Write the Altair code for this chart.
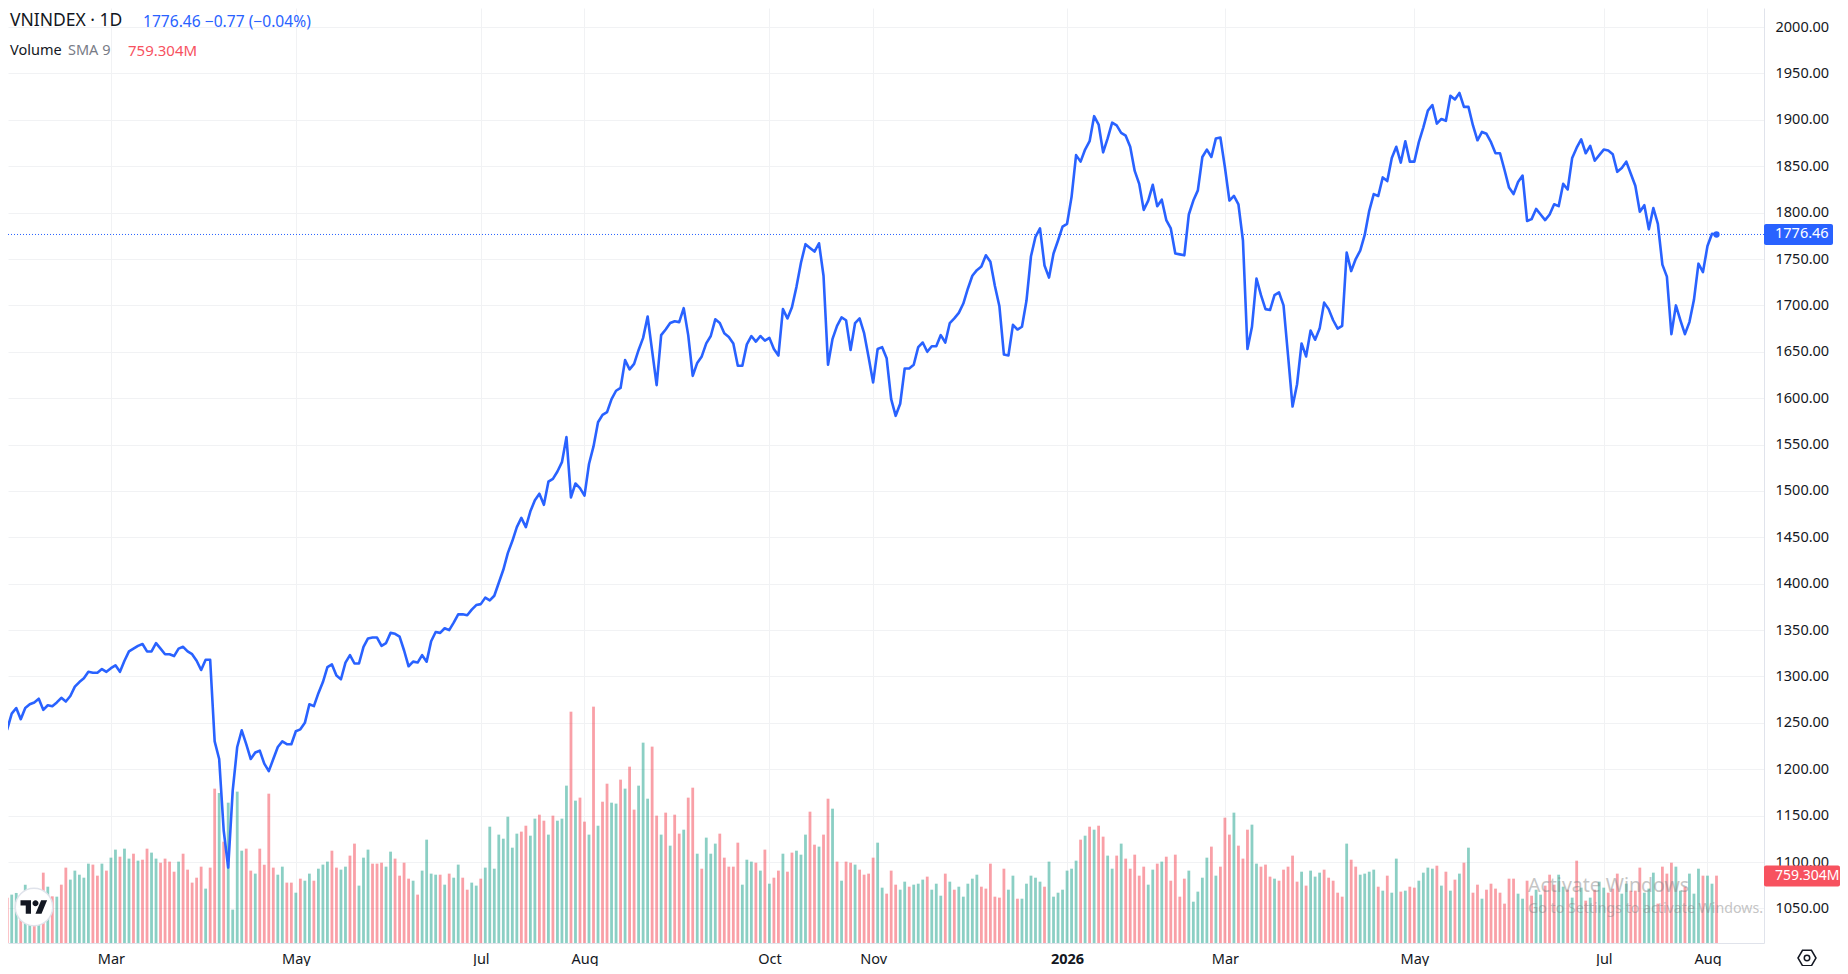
import altair as alt
import pandas as pd

FONT = "Noto Sans"

closes = [
 1250,1247,1243,1260,1266,1254,1266,1270,1272,1276,1264,1269,1268,1272,1277,1273,1279,1289,1294,1298,
 1305,1304,1304,1308,1305,1309,1312,1305,1317,1327,1330,1333,1335,1327,1327,1336,1330,1324,1324,1322,
 1330,1332,1327,1324,1317,1307,1318,1318,1230,1211,1134,1094,1177,1224,1242,1227,1211,1218,1220,1206,
 1198,1211,1224,1230,1227,1227,1241,1243,1250,1270,1268,1282,1294,1310,1313,1301,1297,1315,1323,1314,
 1314,1332,1341,1342,1342,1333,1336,1347,1346,1343,1328,1311,1316,1315,1323,1316,1338,1348,1347,1352,
 1350,1358,1367,1367,1366,1372,1377,1378,1385,1382,1387,1401,1415,1433,1446,1461,1471,1461,1478,1490,
 1497,1485,1510,1513,1521,1531,1558,1493,1508,1503,1495,1529,1548,1574,1582,1585,1599,1608,1611,
 1641,1631,1637,1652,1665,1688,1651,1614,1668,1674,1681,1683,1682,1697,1668,1624,1638,1645,1659,1667,
 1685,1681,1670,1666,1659,1635,1635,1658,1667,1661,1667,1662,1665,1653,1646,1696,1686,1698,1720,1746,
 1766,1762,1758,1767,1732,1636,1664,1678,1687,1684,1652,1681,1686,1670,1644,1617,1653,1655,1643,1599,
 1581,1594,1632,1632,1636,1655,1660,1650,1656,1656,1668,1660,1681,1686,1692,1702,1718,1732,1738,1742,
 1754,1747,1721,1699,1647,1646,1679,1674,1677,1705,1753,1774,1783,1743,1730,1756,1770,1785,1788,1817,
 1862,1855,1868,1877,1904,1895,1865,1880,1897,1894,1886,1883,1871,1845,1831,1803,1813,1830,1807,1814,
 1792,1783,1756,1755,1754,1798,1813,1824,1860,1868,1860,1880,1881,1849,1813,1818,1809,
 1770,1653,1677,1729,1711,1696,1695,1711,1714,1700,1646,1591,1615,1659,1645,1673,1663,1675,1703,1696,
 1684,1675,1678,1757,1737,1750,1759,1776,1802,1820,1818,1838,1834,1859,1871,1854,1877,1855,1855,1876,
 1892,1910,1916,1896,1901,1899,1926,1922,1929,1914,1914,1894,1878,1887,1885,1876,1864,1864,1846,1827,
 1820,1833,1840,1791,1793,1804,1798,1792,1798,1809,1807,1831,1825,1859,1870,1879,1864,1872,1856,1862,
 1868,1867,1863,1844,1848,1855,1842,1829,1801,1808,1782,1805,1788,1744,1731,1669,1700,1684,1669,1682,
 1706,1745,1736,1764,1777.23,1776.46,
]

volumes = [
 491,514,548,567,529,661,567,567,548,797,
 638,529,525,661,854,718,820,774,740,899,
 888,763,899,820,967,1058,978,1069,956,1012,
 933,944,1069,1024,956,910,956,922,808,922,
 1012,831,684,740,865,616,854,1749,1700,1148,
 1590,378,1715,1046,1069,820,786,1069,888,1692,
 854,774,865,684,684,570,729,706,786,706,
 842,888,922,1046,854,831,865,990,1126,650,
 967,1058,899,899,910,865,1035,956,763,910,
 729,706,548,820,1171,786,774,774,661,786,
 740,888,740,604,684,650,729,854,1318,842,
 1228,1182,1431,1080,1239,1262,1329,1216,1409,1454,
 1386,1228,1443,1386,1409,1783,2621,1613,1647,1375,
 1228,2678,1329,1601,1805,1590,1579,1851,
 1749,1998,1511,1783,2270,1635,2225,1443,1228,1477,
 1103,1454,1239,1284,1647,1760,1012,842,1194,1012,
 1126,1239,967,865,865,1137,661,944,922,910,
 820,1058,672,740,820,1012,808,1024,1046,1001,
 1228,1488,1114,1092,1228,1635,1522,922,706,922,
 910,888,831,774,786,967,1137,627,559,820,
 661,604,695,638,661,672,718,752,604,672,
 536,786,695,604,638,525,672,729,774,638,
 616,899,525,514,842,604,763,502,502,672,
 763,740,695,638,922,525,570,604,820,842,
 933,1171,1216,1318,1284,1329,1205,990,842,990,
 1126,956,842,1001,763,865,661,831,899,922,
 978,706,1001,525,729,820,468,582,740,967,
 1092,763,865,1420,1228,1477,1103,
 956,1284,1341,899,865,888,752,729,706,831,
 865,990,695,808,650,820,752,797,831,740,
 706,570,525,1126,944,865,774,786,808,831,
 638,593,763,570,956,582,593,638,627,706,
 797,854,842,876,650,808,593,718,786,910,
 1080,570,661,502,604,672,616,570,446,729,
 729,559,502,706,536,604,548,650,774,661,
 774,638,604,514,933,627,480,514,604,695,
 627,570,616,786,559,672,593,593,854,570,
 616,797,446,865,786,910,865,593,638,786,
 559,842,763,763,672,763,
]

bar_dirs = (
 "RRGGRGGRGR" "GRGRRGGGGG" "RRGRGGRGGR" "GRRGGRRRRG" "RRRRRGRRGR"
 "GGGGRRGRRR" "RGGRRGRGGR" "GGGRRGGRRG" "GGRRRGGRRR" "RGRGGGGRGR"
 "GGRRGGRGGG" "GGGGGRRGGR" "RGRGGGRGRR" "GRGRRGGR"
 "GRRGGGRRGR" "GRRGRRGRGG" "GRRRRRGGGR" "GRGRRGRRGG" "GRRGRRGRGR"
 "RGRRRRGGRR" "RGGRGGGRGG" "GRGRGGGGGR" "RRRRRGGRGG" "GGGRGGGGGG"
 "GRGRGRRGGR" "GRRRRRGGRG" "RRRRRGGGGG" "RGRRRGR"
 "RRGGRRRGRR" "RRRGRGGGRR" "RRRGRRGGGG" "RGRGGRGRRG" "GGGRGRGRGR"
 "GRRGRRRRRR" "RGGRRGGRRR" "GGRGRGRGRG" "GRRRGGRRRG" "GGRRRRGGRG"
 "GGRGGR"
)

tick_pos = [-356, -315, -274, -251, -210, -187, -144, -109, -67, -25, -2]
tick_text = ["Mar", "May", "Jul", "Aug", "Oct", "Nov", "2026", "Mar", "May", "Jul", "Aug"]
price_ticks = list(range(1050, 2001, 50))

last_close = 1776.46
last_sma = 759.304
bar_step_domain = [(8 - 1716.5) / 4.51, (1764 - 1716.5) / 4.51]
price_domain = [1012.7, 2020.6]
volume_domain = [0, 10594]

BLUE = "#2962FF"
TEAL = "#089981"
RED = "#F23645"
GRID = "#F1F2F4"

bars = pd.DataFrame({
    "i": [k - len(volumes) + 1 for k in range(len(volumes))],
    "v": volumes,
    "d": list(bar_dirs)[:len(volumes)],
})
line = pd.DataFrame({
    "i": [k - len(closes) + 1 for k in range(len(closes))],
    "c": closes,
})
one = pd.DataFrame({"a": [1]})

xs = alt.Scale(domain=bar_step_domain, nice=False, zero=False, padding=0)
ys = alt.Scale(domain=price_domain, nice=False, zero=False)
vs = alt.Scale(domain=volume_domain, nice=False, zero=False)

label_expr = "{" + ",".join(f"'{p}':'{t}'" for p, t in zip(tick_pos, tick_text)) + "}[''+datum.value]"

x_axis = alt.Axis(
    values=tick_pos, labelExpr=label_expr, title=None, grid=True, gridColor=GRID, gridWidth=1,
    ticks=False, domain=True, domainColor="#E0E3EB", domainWidth=1, labelFont=FONT, labelFontSize=14.5,
    labelColor="#131722", labelPadding=9, labelFlush=False, labelOverlap=False,
    labelFontWeight=alt.condition("datum.value == -144", alt.value(700), alt.value(400)),
)
y_axis = alt.Axis(
    values=price_ticks, orient="right", format=".2f", title=None, grid=True, gridColor=GRID, gridWidth=1,
    ticks=False, domain=True, domainColor="#E0E3EB", domainWidth=1, labelFont=FONT, labelFontSize=14.5,
    labelColor="#131722", labelPadding=11, labelAlign="left", labelOverlap=False, labelFlush=False,
)

base_grid = alt.Chart(line.tail(1)).mark_point(opacity=0).encode(
    x=alt.X("i:Q", scale=xs, axis=x_axis),
    y=alt.Y("c:Q", scale=ys, axis=y_axis),
)

bar_layer = alt.Chart(bars).mark_bar(size=2.8, opacity=0.47).encode(
    x=alt.X("i:Q", scale=xs, axis=x_axis),
    y=alt.Y("v:Q", scale=vs, axis=None),
    color=alt.Color("d:N", scale=alt.Scale(domain=["G", "R"], range=[TEAL, RED]), legend=None),
)

dot_rule = alt.Chart(pd.DataFrame({"c": [last_close]})).mark_rule(
    color=BLUE, strokeWidth=1, strokeDash=[1, 2]
).encode(y=alt.Y("c:Q", scale=ys, axis=None))

line_layer = alt.Chart(line).mark_line(color=BLUE, strokeWidth=2.6, strokeJoin="round", clip=True).encode(
    x=alt.X("i:Q", scale=xs, axis=x_axis),
    y=alt.Y("c:Q", scale=ys, axis=None),
)
dot = alt.Chart(line.tail(1)).mark_circle(color=BLUE, opacity=1, size=40).encode(
    x=alt.X("i:Q", scale=xs, axis=x_axis),
    y=alt.Y("c:Q", scale=ys, axis=None),
)

price_box = alt.Chart(pd.DataFrame({"a": [last_close + 11.3], "b": [last_close - 11.3]})).mark_rect(
    color=BLUE, cornerRadius=2
).encode(
    x=alt.value(1756), x2=alt.value(1825),
    y=alt.Y("a:Q", scale=ys, axis=None), y2="b:Q",
)
vol_box = alt.Chart(pd.DataFrame({"a": [last_sma + 119], "b": [last_sma - 119]})).mark_rect(
    color="#F7525F", cornerRadius=2
).encode(
    x=alt.value(1756), x2=alt.value(1832),
    y=alt.Y("a:Q", scale=vs, axis=None), y2="b:Q",
)
price_text = alt.Chart(pd.DataFrame({"c": [last_close]})).mark_text(
    text="1776.46", color="white", font=FONT, fontSize=14.5, align="left", baseline="middle"
).encode(x=alt.value(1767), y=alt.Y("c:Q", scale=ys, axis=None))
vol_text = alt.Chart(pd.DataFrame({"c": [last_sma]})).mark_text(
    text="759.304M", color="white", font=FONT, fontSize=14, align="left", baseline="middle"
).encode(x=alt.value(1767), y=alt.Y("c:Q", scale=vs, axis=None))


def label(text, px, py, color, size=14, weight=400, opacity=1):
    return alt.Chart(one).mark_text(
        text=text, color=color, font=FONT, fontSize=size, fontWeight=weight, opacity=opacity,
        align="left", baseline="middle",
    ).encode(x=alt.value(px), y=alt.value(py))


labels = [
    label("VNINDEX · 1D", 2, 13, "#131722", 17.5),
    label("1776.46  −0.77 (−0.04%)", 135, 14, BLUE, 15.6),
    label("Volume", 2, 43, "#131722", 14.5),
    label("SMA 9", 60, 43, "#787B86", 14.5),
    label("759.304M", 120, 43, "#F7525F", 15),
    label("Activate Windows", 1520, 878, "#808080", 19.5, opacity=0.45),
    label("Go to Settings to activate Windows.", 1520, 901, "#808080", 14.2, opacity=0.45),
]

tv_path = ("M-0.222 0.5H-0.611V-0.111H-1V-0.5H-0.222Z"
           "M0.556 0.5H0.111L0.528 -0.5H0.972Z"
           "M-0.111 -0.278a0.222 0.222 0 1 0 0.444 0a0.222 0.222 0 1 0 -0.444 0Z")
logo_bg = alt.Chart(one).mark_point(
    shape="circle", filled=True, fill="white", stroke="#E0E3EB", strokeWidth=1.5, opacity=1, size=1400
).encode(x=alt.value(26), y=alt.value(899))
logo = alt.Chart(one).mark_point(
    shape=tv_path, filled=True, fill="#131722", strokeWidth=0, opacity=1, size=729
).encode(x=alt.value(26), y=alt.value(899))

hex_path = "M-1 0L-0.5 -0.85H0.5L1 0L0.5 0.85H-0.5Z"
gear = alt.Chart(one).mark_point(
    shape=hex_path, filled=False, stroke="#131722", strokeWidth=1.5, opacity=1, size=324
).encode(x=alt.value(1799), y=alt.value(950))
gear_dot = alt.Chart(one).mark_point(
    shape="circle", filled=False, stroke="#131722", strokeWidth=1.5, opacity=1, size=30
).encode(x=alt.value(1799), y=alt.value(950))

chart = alt.layer(
    base_grid, bar_layer, dot_rule, line_layer, dot, price_box, vol_box, price_text, vol_text,
    *labels, logo_bg, logo, gear, gear_dot,
).resolve_scale(y="independent").properties(
    width=1756, height=935,
    autosize=alt.AutoSizeParams(type="none"),
    padding={"left": 0, "top": 0, "right": 76, "bottom": 23},
    background="white",
).configure_view(strokeWidth=0)

chart.save("out.html", embed_options={"renderer": "svg", "actions": False})
